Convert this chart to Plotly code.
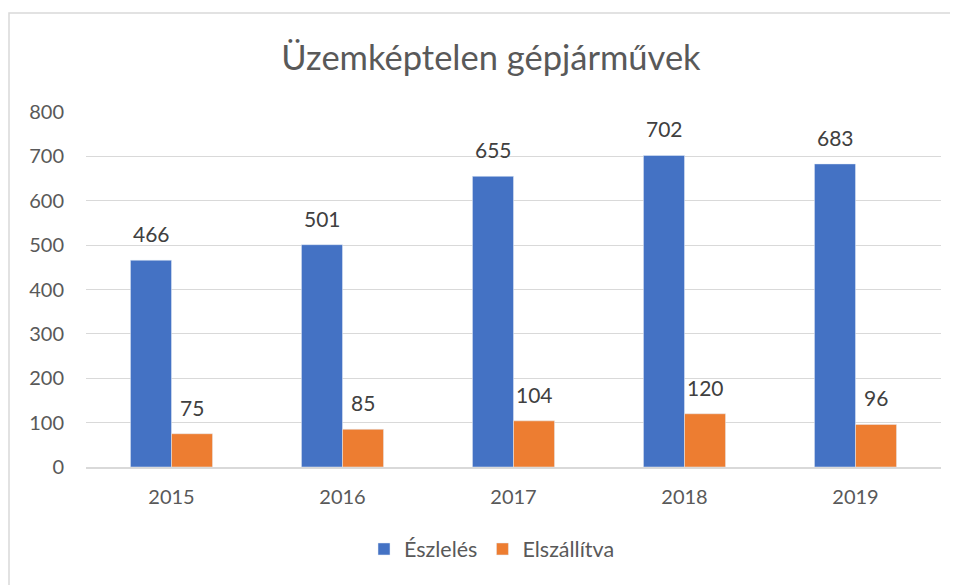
import plotly.graph_objects as go

years = ["2015", "2016", "2017", "2018", "2019"]
eszleles = [466, 501, 655, 702, 683]
elszallitva = [75, 85, 104, 120, 96]
y_ticks = [0, 100, 200, 300, 400, 500, 600, 700, 800]

FONT = "Lato, Open Sans, sans-serif"
GREY = "#595959"
LBL = "#404040"

# page body has an 8px margin, so figure origin sits at (8, 8) in the screenshot
OFF = 8
W, H = 950, 577
L, R, T, B = 78, 17, 104, 118
pw, ph = W - L - R, H - T - B

def px_x(x):
    return (x - OFF - L) / pw

def px_y(y):
    return (H - B - (y - OFF)) / ph

fig = go.Figure()
fig.add_trace(go.Bar(x=years, y=eszleles, name="Észlelés", marker_color="#4472C4"))
fig.add_trace(go.Bar(x=years, y=elszallitva, name="Elszállítva", marker_color="#ED7D31"))

annotations = []
for series, shift in ((eszleles, -20.5), (elszallitva, 20.5)):
    for i, v in enumerate(series):
        # category axis: annotation x is the category index
        annotations.append(dict(x=i, y=v, xref="x", yref="y", text=str(v),
                                showarrow=False, xshift=shift, yshift=12,
                                yanchor="bottom", xanchor="center",
                                font=dict(size=21, color=LBL, family=FONT)))

fig.update_layout(
    width=W, height=H,
    margin=dict(l=L, r=R, t=T, b=B),
    paper_bgcolor="white", plot_bgcolor="white",
    barmode="group", bargap=0.52, bargroupgap=0,
    title=dict(text="Üzemképtelen gépjárművek", x=px_x(491), xanchor="center",
               xref="paper", y=1 - (58 - OFF) / H, yanchor="middle",
               font=dict(size=34.5, color=GREY, family=FONT)),
    font=dict(family=FONT, color=GREY, size=20),
    showlegend=True,
    legend=dict(orientation="h", x=px_x(492), xanchor="center", y=px_y(549), yanchor="middle",
                font=dict(size=21.5, color=GREY, family=FONT), traceorder="normal"),
    xaxis=dict(type="category", range=[-0.5, len(years) - 0.5], showgrid=False, showline=True,
               linecolor="#d9d9d9", linewidth=1.5,
               ticks="", tickfont=dict(size=20, color=GREY), ticklabelstandoff=11),
    yaxis=dict(range=[0, 800], tickvals=y_ticks, showgrid=True, gridcolor="#d9d9d9",
               gridwidth=1.2, zeroline=False, showline=False, ticks="",
               tickfont=dict(size=20, color=GREY), ticklabelstandoff=21),
    annotations=annotations,
    shapes=[dict(type="rect", xref="paper", yref="paper",
                 x0=px_x(9), x1=px_x(975), y0=px_y(600), y1=px_y(13),
                 line=dict(color="#d9d9d9", width=1.5), fillcolor="rgba(0,0,0,0)",
                 layer="below")],
)

fig.write_html("out.html")
